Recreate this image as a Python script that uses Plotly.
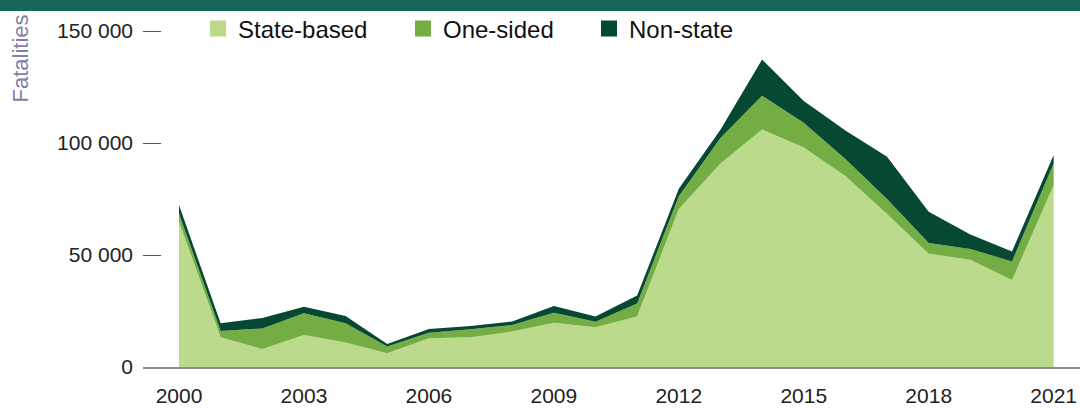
import plotly.graph_objects as go

years = list(range(2000, 2022))
state_based = [65000, 13300, 8000, 14300, 10900, 6100, 12800, 13300, 15800, 19800, 17800,
               22500, 70500, 90900, 106000, 98000, 85300, 68300, 50600, 47900, 38800, 81100]
one_sided = [3500, 2800, 9200, 9700, 8600, 3000, 2500, 3500, 3000, 4400, 2400,
             5900, 5700, 11300, 15100, 11000, 7600, 6700, 4800, 4800, 8300, 9800]
non_state = [3800, 3400, 4700, 2900, 3300, 1200, 1650, 1500, 1500, 3000, 2300,
             3500, 3400, 3700, 16200, 9800, 12700, 18900, 13900, 6500, 4500, 3750]

series_names = ["State-based", "One-sided", "Non-state"]
series_values = [state_based, one_sided, non_state]
colors = ["#bcda8b", "#74ad43", "#074832"]

x_ticks = [2000, 2003, 2006, 2009, 2012, 2015, 2018, 2021]
y_ticks = [0, 50000, 100000, 150000]
y_tick_text = ["0", "50 000", "100 000", "150 000"]

FONT = "Arial, Liberation Sans, Helvetica, sans-serif"
W, H = 1080, 408
ML, MR, MT, MB = 143, 0, 14, 41

fig = go.Figure()
for name, vals, col in zip(series_names, series_values, colors):
    fig.add_trace(go.Scatter(
        x=years, y=vals, name=name, stackgroup="one", mode="none",
        fillcolor=col, line=dict(width=0), showlegend=False,
        hovertemplate="%{x}: %{y}<extra>" + name + "</extra>"))

legend_ids = ["legend", "legend2", "legend3"]
legend_left = [198, 403, 589]
for name, col, lid in zip(series_names, colors, legend_ids):
    fig.add_trace(go.Scatter(
        x=[None], y=[None], name=name, mode="markers",
        marker=dict(symbol="square", size=16, color=col, line=dict(width=0)),
        showlegend=True, legend=lid))

legend_common = dict(orientation="h", yref="container", xref="container",
                     yanchor="middle", xanchor="left", bgcolor="rgba(0,0,0,0)",
                     font=dict(family=FONT, size=24, color="#111111"),
                     itemsizing="trace", itemwidth=30)
layout_legends = {}
for lid, left in zip(legend_ids, legend_left):
    layout_legends[lid] = dict(legend_common, x=left / W, y=1 - 29 / H)

plot_h = H - MT - MB
ymax = 150000 * plot_h / (367 - 31)
px_per_year = 41.65
x0 = 2000 - (179 - ML) / px_per_year
x1 = 2000 + (W - MR - 179) / px_per_year

fig.update_layout(
    width=W, height=H,
    margin=dict(l=ML, r=MR, t=MT, b=MB, autoexpand=False),
    paper_bgcolor="white", plot_bgcolor="white",
    font=dict(family=FONT, size=21, color="#222222"),
    xaxis=dict(range=[x0, x1], tickvals=x_ticks, ticktext=[str(v) for v in x_ticks],
               showgrid=False, zeroline=False, showline=True, linecolor="#8c8c8c",
               linewidth=2, ticks="", tickfont=dict(size=21, color="#222222"),
               ticklabelstandoff=9, automargin=False),
    yaxis=dict(range=[0, ymax], tickvals=y_ticks, ticktext=y_tick_text,
               showgrid=False, zeroline=False, showline=False,
               ticks="inside", ticklen=18, tickwidth=1, tickcolor="#555555",
               tickfont=dict(size=21, color="#222222"), ticklabelstandoff=9,
               automargin=False),
    showlegend=True,
    **layout_legends,
)

# top band
fig.add_shape(type="rect", xref="paper", yref="paper",
              x0=-ML / (W - ML - MR), x1=1.0,
              y0=(367 - 11) / plot_h, y1=(367 + 1) / plot_h,
              fillcolor="#16665a", line=dict(width=0), layer="above")

# y-axis title
fig.add_annotation(text="Fatalities", xref="paper", yref="paper",
                   x=(20 - ML) / (W - ML - MR), y=(367 - 58.5) / plot_h,
                   xanchor="center", yanchor="middle", textangle=-90,
                   showarrow=False, font=dict(family=FONT, size=22, color="#8080aa"))

fig.write_html("out.html",
               config={"displayModeBar": False},
               post_script="document.body.style.margin='0';document.body.style.overflow='hidden';")
